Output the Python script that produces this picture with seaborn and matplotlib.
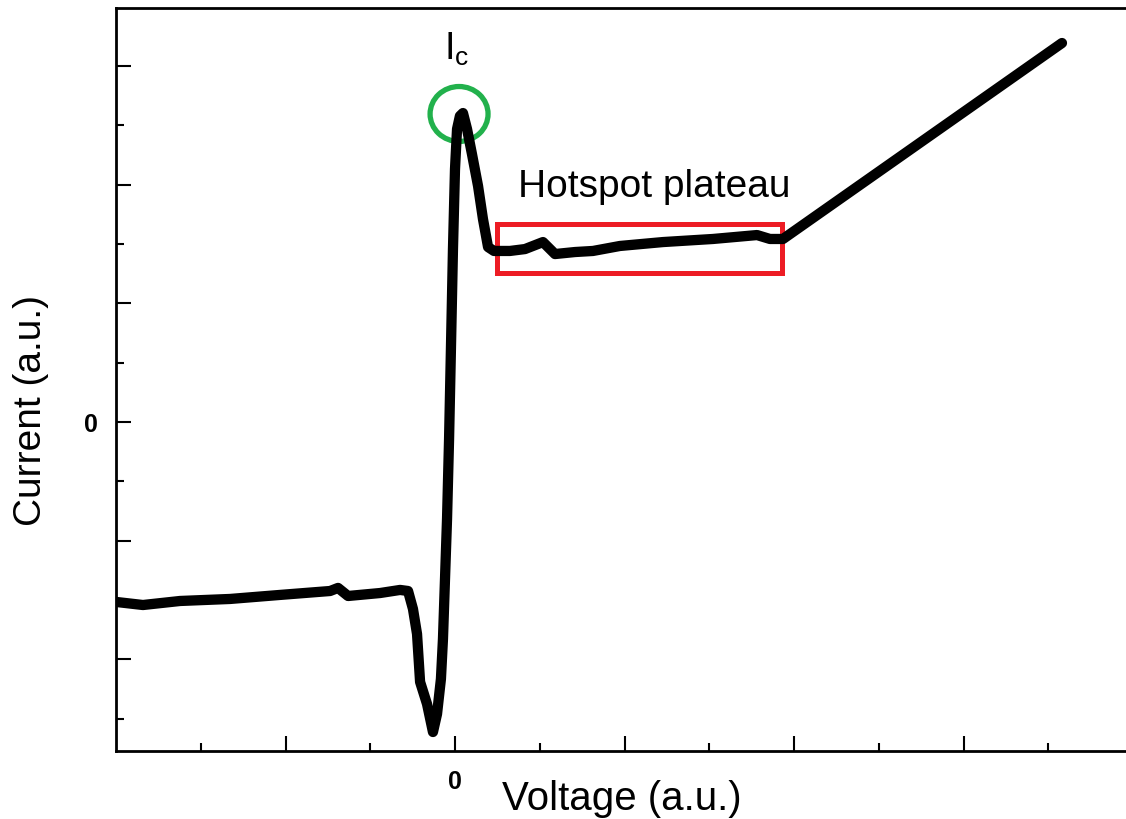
import matplotlib
matplotlib.use("Agg")
import matplotlib.pyplot as plt
from matplotlib.patches import Ellipse, Rectangle
from matplotlib.ticker import FixedLocator, FuncFormatter
import seaborn as sns
import pandas as pd

# I-V sweep of the nanowire (arbitrary units)
voltage = [-2.000, -1.841, -1.622, -1.327, -1.032, -0.737, -0.690, -0.631,
           -0.442, -0.324, -0.277, -0.248, -0.224, -0.206, -0.165, -0.130,
           -0.106, -0.083, -0.071, -0.059, -0.047, -0.035, -0.024, -0.012,
           0.000, 0.012, 0.029, 0.047, 0.071, 0.100, 0.136, 0.165, 0.195,
           0.230, 0.324, 0.413, 0.519, 0.590, 0.708, 0.814, 0.973, 1.227,
           1.522, 1.782, 1.858, 1.935, 3.581]
current = [-1.516, -1.542, -1.508, -1.491, -1.457, -1.424, -1.398, -1.466,
           -1.441, -1.415, -1.424, -1.575, -1.786, -2.190, -2.376, -2.612,
           -2.460, -2.165, -1.828, -1.323, -0.817, -0.143, 0.615, 1.457,
           2.131, 2.468, 2.578, 2.603, 2.468, 2.258, 1.988, 1.710, 1.474,
           1.441, 1.441, 1.457, 1.516, 1.415, 1.432, 1.441, 1.483, 1.516,
           1.542, 1.575, 1.542, 1.542, 3.193]

x_major = [-1, 0, 1, 2, 3, 4]
x_minor = [-1.5, -0.5, 0.5, 1.5, 2.5, 3.5]
y_major = [-2, -1, 0, 1, 2, 3]
y_minor = [-2.5, -1.5, -0.5, 0.5, 1.5, 2.5]
tick_labels = {0: "0"}

sns.set_theme(style="ticks")
plt.rcParams["font.family"] = ["Liberation Sans", "DejaVu Sans"]
plt.rcParams["mathtext.default"] = "regular"
plt.rcParams["text.color"] = "black"
plt.rcParams["axes.labelcolor"] = "black"
plt.rcParams["xtick.color"] = "black"
plt.rcParams["ytick.color"] = "black"

fig = plt.figure(figsize=(11.26, 8.2), dpi=100)
ax = fig.add_axes([116 / 1126, 68 / 820, 1017 / 1126, 743 / 820])

df = pd.DataFrame({"Voltage": voltage, "Current": current})
sns.lineplot(data=df, x="Voltage", y="Current", sort=False, estimator=None,
             color="black", linewidth=7.4, ax=ax,
             solid_capstyle="round", solid_joinstyle="round")

ax.set_xlim(-2.0, 4.0)
ax.set_ylim(-2.772, 3.488)

ax.xaxis.set_major_locator(FixedLocator(x_major))
ax.xaxis.set_minor_locator(FixedLocator(x_minor))
ax.yaxis.set_major_locator(FixedLocator(y_major))
ax.yaxis.set_minor_locator(FixedLocator(y_minor))
fmt = FuncFormatter(lambda v, p: tick_labels.get(int(round(v)), "") if abs(v - round(v)) < 1e-9 else "")
ax.xaxis.set_major_formatter(fmt)
ax.yaxis.set_major_formatter(fmt)

ax.tick_params(which="major", direction="in", length=11, width=1.5, pad=13,
               labelsize=18, colors="black", top=False, right=False)
ax.tick_params(which="minor", direction="in", length=6, width=1.5,
               colors="black", top=False, right=False)
for lab in ax.get_xticklabels() + ax.get_yticklabels():
    lab.set_fontweight("bold")

for side in ["left", "bottom", "top", "right"]:
    ax.spines[side].set_linewidth(2)
    ax.spines[side].set_color("black")

ax.set_xlabel("Voltage (a.u.)", fontsize=29)
ax.set_ylabel("Current (a.u.)", fontsize=28)
ax.xaxis.set_label_coords(0.4976, -0.038)
ax.yaxis.set_label_coords(-0.066, 0.46)

# critical current marker
ax.add_patch(Ellipse((0.024, 2.595), 0.342, 0.463, fill=False,
                     edgecolor="#22B14C", linewidth=3.8, clip_on=False))
ax.text(-0.065, 3.058, r"I$_{c}$", fontsize=27, ha="left", va="baseline")

# plateau region
ax.add_patch(Rectangle((0.248, 1.255), 1.935 - 0.248 - 0.006, 1.668 - 1.255,
                       fill=False, edgecolor="#ED1C24", linewidth=3.6))
ax.text(1.174, 1.904, "Hotspot plateau", fontsize=28, ha="center", va="baseline")

fig.savefig("out.png", dpi=100)
